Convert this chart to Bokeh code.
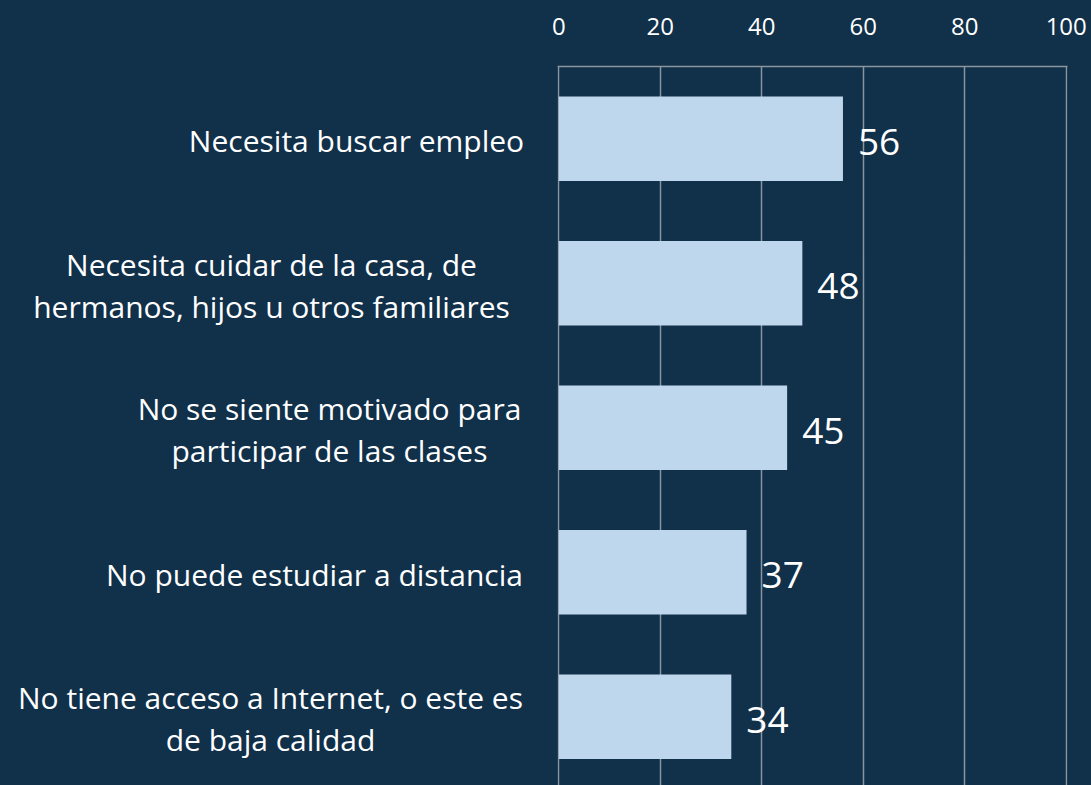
from bokeh.plotting import figure
from bokeh.layouts import row
from bokeh.models import Range1d, FixedTicker, ColumnDataSource, LabelSet
from bokeh.core.properties import value
from bokeh.embed import file_html
from bokeh.resources import INLINE

categories = [
    "Necesita buscar empleo",
    "Necesita cuidar de la casa, de\nhermanos, hijos u otros familiares",
    "No se siente motivado para\nparticipar de las clases",
    "No puede estudiar a distancia",
    "No tiene acceso a Internet, o este es\nde baja calidad",
]
values = [56, 48, 45, 37, 34]
ticks = [0, 20, 40, 60, 80, 100]

# layout only: horizontal centre (px in the label panel) of each label block
label_centres = [356, 271, 329, 314, 270]

BG = "#11304a"
BAR = "#bfd7ed"
GRID = "#8a969f"
FONT = "Open Sans"
LEFT_W = 548

n = len(categories)
ypos = [n - 1 - i for i in range(n)]

yr = Range1d(-0.476, 4.5)

src = ColumnDataSource(dict(
    y=ypos,
    v=values,
    vt=[str(v) for v in values],
))
lab_src = ColumnDataSource(dict(y=ypos, cat=categories, cx=label_centres))

# ---- label panel (left) ----
pl = figure(
    width=LEFT_W, height=785,
    x_range=Range1d(0, LEFT_W), y_range=yr,
    output_backend="svg", toolbar_location=None,
    min_border_left=0, min_border_right=0, min_border_top=66, min_border_bottom=0,
)
pl.background_fill_color = BG
pl.border_fill_color = BG
pl.outline_line_color = None
pl.axis.visible = False
pl.grid.visible = False
pl.text(x="cx", y="y", text="cat", source=lab_src, y_offset=2,
        text_align="center", text_baseline="middle",
        text_color="#ffffff", text_font=value(FONT), text_font_size="30px",
        text_line_height=1.03)

# ---- bar chart (right) ----
p = figure(
    width=1091 - LEFT_W, height=785,
    x_range=Range1d(-0.25, 100.25), y_range=yr,
    x_axis_location="above",
    output_backend="svg", toolbar_location=None,
    min_border_left=9, min_border_right=24, min_border_top=66, min_border_bottom=0,
)
p.background_fill_color = BG
p.border_fill_color = BG
p.outline_line_color = None

p.hbar(y="y", left=0, right="v", height=0.585, source=src, fill_color=BAR, line_color=None)

p.yaxis.visible = False
p.ygrid.grid_line_color = None
p.xgrid.grid_line_color = GRID
p.xgrid.grid_line_width = 1.5

ax = p.xaxis[0]
ax.ticker = FixedTicker(ticks=ticks)
ax.axis_line_color = GRID
ax.axis_line_width = 1.5
ax.major_tick_line_color = None
ax.minor_tick_line_color = None
ax.major_tick_out = 0
ax.major_tick_in = 0
ax.major_label_standoff = 32
ax.major_label_text_color = "#ffffff"
ax.major_label_text_font = FONT
ax.major_label_text_font_size = "24px"

vals = LabelSet(x="v", y="y", text="vt", source=src, x_offset=15, y_offset=-3,
                text_baseline="middle", text_align="left",
                text_color="#ffffff", text_font=value(FONT), text_font_size="37px")
p.add_layout(vals)

layout = row(pl, p, spacing=0)
layout.styles = {"background-color": BG}

open("out.html", "w").write(file_html(layout, INLINE))
